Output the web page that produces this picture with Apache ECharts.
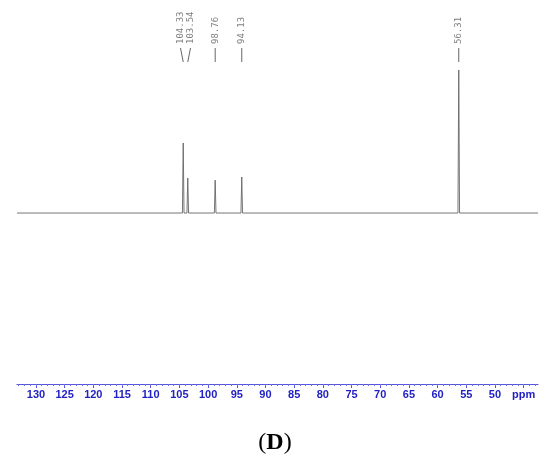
<!DOCTYPE html>
<html>
<head>
<meta charset="utf-8">
<script src="https://cdn.jsdelivr.net/npm/echarts@6/dist/echarts.min.js"></script>
<style>
  html, body { margin: 0; padding: 0; background: #fff; }
  #chart { width: 550px; height: 466px; }
</style>
</head>
<body>
<div id="chart"></div>
<script>
// peak positions (ppm) and relative heights (tallest = 100)
const peakPpm = [104.33, 103.54, 98.76, 94.13, 56.31];
const peakHeight = [49, 24.5, 23, 25.2, 100];
const peakLabels = ['104.33', '103.54', '98.76', '94.13', '56.31'];
// visible ppm window
const ppmLeft = 133.3;
const ppmRight = 42.5;
// axis tick labels (45 shown as the unit)
const majorTicks = [130, 125, 120, 115, 110, 105, 100, 95, 90, 85, 80, 75, 70, 65, 60, 55, 50, 45];
const minorTicks = [];
for (let v = 43; v <= 133; v++) minorTicks.push(v);

// spectrum line: flat baseline with narrow peaks
const halfWidth = 0.14;
const spectrum = [[ppmLeft, 0]];
peakPpm.forEach((p, i) => {
  spectrum.push([p + halfWidth, 0], [p, peakHeight[i]], [p - halfWidth, 0]);
});
spectrum.push([ppmRight, 0]);

const chart = echarts.init(document.getElementById('chart'));

const grid = { left: 17, right: 12, top: 0, bottom: 82 };
const yRange = { min: -119.6, max: 149 };

// spread label x positions so labels don't overlap
function spreadLabels(xs, gap) {
  const out = xs.slice();
  for (let k = 0; k < 20; k++) {
    for (let j = 0; j < out.length - 1; j++) {
      const d = out[j + 1] - out[j];
      if (d < gap) {
        const m = (out[j] + out[j + 1]) / 2;
        out[j] = m - gap / 2;
        out[j + 1] = m + gap / 2;
      }
    }
  }
  return out;
}

const option = {
  animation: false,
  grid: [grid, grid],
  xAxis: [
    {
      type: 'value', gridIndex: 0, inverse: true, min: ppmRight, max: ppmLeft,
      position: 'bottom',
      axisLine: { onZero: false, lineStyle: { color: '#5555dd', width: 1.2 } },
      axisTick: { show: true, length: 4, customValues: majorTicks, lineStyle: { color: '#5555dd' } },
      axisLabel: {
        customValues: majorTicks, margin: 5, fontSize: 11, fontWeight: 'bold',
        fontFamily: 'Liberation Sans, Arial, sans-serif', color: '#2222c4',
        formatter: v => (v === 45 ? 'ppm' : String(v))
      },
      splitLine: { show: false }
    },
    {
      type: 'value', gridIndex: 1, inverse: true, min: ppmRight, max: ppmLeft,
      position: 'bottom',
      axisLine: { show: false, onZero: false },
      axisTick: { show: true, length: 2, customValues: minorTicks, lineStyle: { color: '#6e6ee3' } },
      axisLabel: { show: false },
      splitLine: { show: false }
    }
  ],
  yAxis: [
    { type: 'value', gridIndex: 0, min: yRange.min, max: yRange.max, show: false },
    { type: 'value', gridIndex: 1, min: yRange.min, max: yRange.max, show: false }
  ],
  series: [
    {
      type: 'line', xAxisIndex: 0, yAxisIndex: 0, data: spectrum,
      showSymbol: false, silent: true,
      lineStyle: { color: '#666', width: 0.9 }
    },
    {
      type: 'custom', xAxisIndex: 0, yAxisIndex: 0, silent: true,
      data: peakPpm.map((p, i) => [p, peakHeight[i], i]),
      renderItem: function (params, api) {
        const i = api.value(2);
        const top = params.coordSys.y;
        const xs = peakPpm.map(p => api.coord([p, 0])[0]);
        const lx = spreadLabels(xs, 10);
        return {
          type: 'group',
          children: [
            {
              type: 'line',
              shape: { x1: lx[i], y1: top + 48, x2: xs[i], y2: top + 62 },
              style: { stroke: '#666', lineWidth: 1 }
            },
            {
              type: 'text', x: lx[i], y: top + 44, rotation: Math.PI / 2,
              style: {
                text: peakLabels[i], fill: '#808080', fontSize: 9,
                fontFamily: 'DejaVu Sans Mono, monospace',
                align: 'left', verticalAlign: 'middle'
              }
            }
          ]
        };
      }
    }
  ],
  graphic: [
    {
      type: 'text', left: 'center', top: 431,
      style: {
        rich: {
          p: { fontFamily: 'Liberation Serif, Times New Roman, serif', fontSize: 24, fill: '#000' },
          d: { fontFamily: 'Liberation Serif, Times New Roman, serif', fontSize: 24, fontWeight: 'bold', fill: '#000' }
        },
        text: '{p|(}{d|D}{p|)}'
      }
    }
  ]
};

chart.setOption(option);
</script>
</body>
</html>
